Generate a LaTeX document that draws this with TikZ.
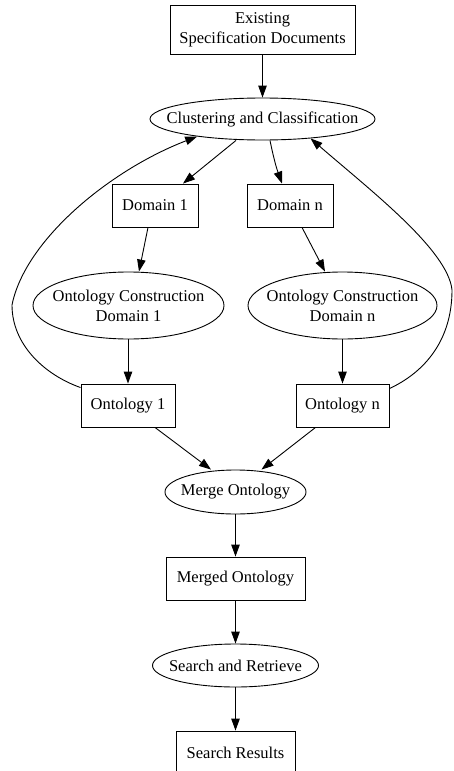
\documentclass[tikz,border=0pt]{standalone}
\usepackage{fontspec}
\setmainfont{Liberation Serif}
\usetikzlibrary{shapes.geometric,arrows.meta}
\tikzset{
  base/.style={draw, line width=0.9pt, inner sep=0pt, align=center,
    font=\fontsize{16.5}{20}\selectfont},
  boxnode/.style={base, rectangle},
  ellnode/.style={draw, line width=0.9pt, inner sep=0pt, ellipse},
  lbl/.style={inner sep=0pt, align=center, font=\fontsize{16.5}{20}\selectfont},
  conn/.style={line width=0.9pt, -{Triangle[length=12pt,width=8.5pt]}}
}
\begin{document}
\begin{tikzpicture}[x=1pt,y=-1pt]
\useasboundingbox (0,0) rectangle (453,771);
\begin{scope}
\clip (0,0) rectangle (453,771);
\node[boxnode, minimum width=185pt, minimum height=49pt] (ex) at (262.5,30) {Existing\\Specification Documents};
\node[ellnode, minimum width=225pt, minimum height=42pt] (cc) at (262.5,119) {};
\node[lbl] (cct) at (cc) {Clustering and Classification};
\node[boxnode, minimum width=86pt, minimum height=43pt] (d1) at (155,205.5) {Domain 1};
\node[boxnode, minimum width=86pt, minimum height=43pt] (dn) at (290,205.5) {Domain n};
\node[ellnode, minimum width=191pt, minimum height=67pt] (oc1) at (128.5,305.5) {};
\node[lbl] (oc1t) at (oc1) {Ontology Construction\\Domain 1};
\node[ellnode, minimum width=189pt, minimum height=67pt] (ocn) at (342.5,305.5) {};
\node[lbl] (ocnt) at (ocn) {Ontology Construction\\Domain n};
\node[boxnode, minimum width=94pt, minimum height=43pt] (o1) at (128,405.5) {Ontology 1};
\node[boxnode, minimum width=93pt, minimum height=43pt] (on) at (342.5,405.5) {Ontology n};
\node[ellnode, minimum width=141pt, minimum height=44pt] (mo) at (235.5,492) {};
\node[lbl] (mot) at (mo) {Merge Ontology};
\node[boxnode, minimum width=139pt, minimum height=43pt] (mg) at (235.5,578.5) {Merged Ontology};
\node[ellnode, minimum width=166pt, minimum height=43pt] (sr) at (235.5,665.5) {};
\node[lbl] (srt) at (sr) {Search and Retrieve};
\node[boxnode, minimum width=119pt, minimum height=43pt] (res) at (235.5,752.5) {Search Results};

\draw[conn] (ex) -- (cc);
\draw[conn] ([xshift=-26.5pt]cc.south) -- ([xshift=28pt]d1.north);
\draw[conn] ([xshift=7.5pt]cc.south) to[bend right=4] ([xshift=-8pt]dn.north);
\draw[conn] ([xshift=-7pt]d1.south) -- ([xshift=10.5pt]oc1.north);
\draw[conn] ([xshift=12pt]dn.south) -- ([xshift=-17.5pt]ocn.north);
\draw[conn] (oc1.south -| o1) -- (o1);
\draw[conn] (ocn) -- (on);
\draw[conn] ([xshift=27pt]o1.south) -- ([xshift=-24.5pt]mo.north);
\draw[conn] ([xshift=-27pt]on.south) -- ([xshift=26pt]mo.north);
\draw[conn] (mo) -- (mg);
\draw[conn] (mg) -- (sr);
\draw[conn] (sr) -- (res);
\draw[conn] ([yshift=-4pt]o1.north west) .. controls (45,375) and (12,345) .. (12,305)
   .. controls (25,240) and (110,170) .. (cc.195);
\draw[conn] ([yshift=-5pt]on.north east) .. controls (425,372) and (452,340) .. (452,290)
   .. controls (448,250) and (370,190) .. (cc.338);
\end{scope}
\end{tikzpicture}
\end{document}
